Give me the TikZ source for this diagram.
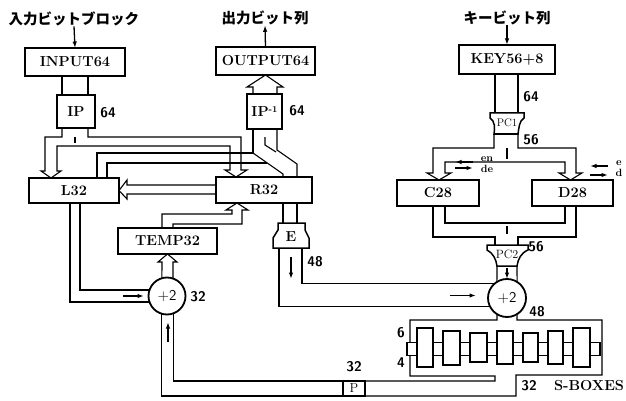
\documentclass[tikz,border=0pt]{standalone}
\usepackage{fontspec}
\newfontfamily\jfont{Noto Sans CJK JP}
\usetikzlibrary{arrows.meta}
\begin{document}
\begin{tikzpicture}[x=1pt,y=-1pt,
  blk/.style={draw, line width=1.8pt, fill=white, inner sep=0pt, outer sep=0pt, font=\fontsize{14.5}{14.5}\selectfont\bfseries},
  txt/.style={inner sep=0pt, font=\fontsize{14.5}{14.5}\selectfont\bfseries},
  bus/.style={line width=1.1pt},
  num/.style={inner sep=0pt, font=\fontsize{14}{14}\selectfont\sffamily\bfseries},
  sarr/.style={line width=1.3pt, -{Latex[length=6.5pt,width=4.5pt]}},
  xorn/.style={circle, draw, line width=1.8pt, fill=white, inner sep=0pt, outer sep=0pt, minimum size=37pt, font=\fontsize{15}{15}\selectfont\sffamily},
  jp/.style={inner sep=0pt, font=\jfont\bfseries\fontsize{14.5}{14.5}\selectfont},
  sbx/.style={draw, line width=1.2pt, fill=white, minimum width=10pt, minimum height=13pt, inner sep=0pt, outer sep=0pt},
  shp/.style={draw, line width=1.5pt, fill=white},
  pcf/.style={inner sep=0pt, font=\fontsize{11}{11}\selectfont},
  small/.style={inner sep=0pt, font=\fontsize{10.5}{10.5}\selectfont\bfseries}
]
\useasboundingbox (0,0) rectangle (626,401);

% titles
\node[jp] (jin) at (74,19) {入力ビットブロック};
\node[jp] (jout) at (265,18) {出力ビット列};
\node[jp] (jkey) at (507,18) {キービット列};

% boxes
\node[blk, minimum width=100pt, minimum height=28pt] (in) at (75,62) {INPUT64};
\node[blk, minimum width=99pt, minimum height=28pt] (out) at (265.5,61) {OUTPUT64};
\node[blk, minimum width=96pt, minimum height=29pt] (key) at (507,59.5) {KEY56+8};
\node[blk, minimum width=38pt, minimum height=33pt] (ip) at (76,111.5) {IP};
\node[blk, minimum width=35pt, minimum height=35pt] (ipi) at (264.5,111.5) {IP\raisebox{4pt}{\fontsize{9}{9}\selectfont -1}};
\node[blk, minimum width=90pt, minimum height=25pt] (L) at (74,190.5) {L32};
\node[blk, minimum width=96pt, minimum height=26pt] (R) at (264,190) {R32};
\node[blk, minimum width=99pt, minimum height=26pt] (T) at (167.5,241) {TEMP32};
\node[blk, minimum width=82pt, minimum height=26pt] (C) at (438,193) {C28};
\node[blk, minimum width=81pt, minimum height=26pt] (D) at (572.5,193) {D28};
\node[blk, line width=1.4pt, minimum width=22pt, minimum height=15pt, font=\fontsize{13}{13}\selectfont] (P) at (354,388.5) {P};
\node[xorn] (lx) at (167,296) {+2};
\node[xorn, minimum size=38pt] (rx) at (507,298) {+2};

% special shapes
\draw[shp] (490,113) -- (524,113) -- (524,118) .. controls (519,121) and (519,128) .. (518,134) -- (494,134) .. controls (495,128) and (495,121) .. (490,118) -- cycle;
\node[pcf] (pc1) at (507,122.5) {PC1};
\draw[shp] (487,245) -- (528,245) -- (528,250) .. controls (521,253) and (518,259) .. (517,266) -- (497,266) .. controls (496,259) and (493,253) .. (487,250) -- cycle;
\node[pcf, font=\fontsize{12}{12}\selectfont] (pc2) at (507,254.5) {PC2};
\draw[shp] (278,223) -- (305,223) -- (305,230) -- (309,238) -- (309,248) -- (273,248) -- (273,238) -- (278,230) -- cycle;
\node[txt] (E) at (291,237) {E};

% title arrows
\draw[sarr] (jin.south) -- (in.north);
\draw[sarr] (out.north) -- (jout.south);
\draw[sarr] (jkey.south) -- (key.north);

% INPUT -> IP, KEY -> PC1
\draw[bus] (62,0 |- in.south) -- (62,0 |- ip.north);
\draw[bus] (88,0 |- in.south) -- (88,0 |- ip.north);
\draw[bus] (495,0 |- key.south) -- (495,113);
\draw[bus] (518,0 |- key.south) -- (518,113);

% IP split to L and R
\draw[bus] (62,0 |- ip.south) -- (62,137) -- (45,137) -- (45,171) -- (41,171) -- (51,0 |- L.north) -- (61,171) -- (57,171) -- (57,146) -- (230,146) -- (230,170) -- (225,170) -- (236,0 |- R.north) -- (247,170) -- (241,170) -- (241,137) -- (88,137) -- (88,0 |- ip.south);
\draw[bus] (75,137) -- (75,143);

% L, R -> IP^-1
\draw[bus] (97,0 |- L.north) -- (97,153) -- (253,153) -- (253,0 |- ipi.south);
\draw[bus] (253,153) -- (283,174) -- (283,0 |- R.north);
\draw[bus] (107,0 |- L.north) -- (107,163) -- (267,163);
\draw[bus] (265,137) -- (265,145) -- (276,152);
\draw[bus] (277,0 |- ipi.south) -- (277,150) -- (297,164) -- (297,0 |- R.north);

% IP^-1 -> OUTPUT
\draw[bus] (253,0 |- ipi.north) -- (253,87) -- (247,87) -- (out.south) -- (283,87) -- (277,87) -- (277,0 |- ipi.north);

% R -> L
\draw[bus] (R.west |- 0,185) -- (127,185) -- (127,180) -- (L.east) -- (127,199) -- (127,194) -- (R.west |- 0,194);

% TEMP -> R
\draw[bus] (162,0 |- T.north) -- (162,214) -- (232,214) -- (232,210) -- (226,210) -- (237,0 |- R.south) -- (248,210) -- (242,210) -- (242,224) -- (173,224) -- (173,0 |- T.north);

% XOR -> TEMP
\draw[bus] (lx.106) -- (162,262) -- (158,262) -- (T.south) -- (177,262) -- (173,262) -- (lx.71);

% L -> XOR
\draw[bus] (80,0 |- L.south) |- (lx.161);
\draw[bus] (70,0 |- L.south) |- (lx.199);

% P -> XOR
\draw[bus] (P.north west) -| (lx.292);
\draw[bus] (P.south west) -| (lx.254);

% R -> E -> XOR
\draw[bus] (283,0 |- R.south) -- (283,223);
\draw[bus] (297,0 |- R.south) -- (297,223);
\draw[bus] (302,248) |- (rx.132);
\draw[bus] (279,248) |- (rx.208);

% PC1 split to C and D
\draw[bus] (494,134) -- (494,148) -- (433,148) -- (433,173) -- (427,173) -- (439,0 |- C.north) -- (451,173) -- (445,173) -- (445,162) -- (565,162) -- (565,173) -- (559,173) -- (570.5,0 |- D.north) -- (582,173) -- (576,173) -- (576,148) -- (518,148) -- (518,134);
\draw[bus] (507,148) -- (507,159);

% C, D -> PC2
\draw[bus] (445,0 |- C.south) -- (445,223) -- (565,223) -- (565,0 |- D.south);
\draw[bus] (433,0 |- C.south) -- (433,237) -- (495,237) -- (495,245);
\draw[bus] (576,0 |- D.south) -- (576,237) -- (518,237) -- (518,245);
\draw[bus] (507,226) -- (507,234);

% PC2 -> XOR
\draw[bus] (497,266) -- (rx.122);
\draw[bus] (517,266) -- (rx.58);

% XOR -> S-box enclosure -> P
\draw[bus] (rx.238) -- (497,320) -- (410,320) -- (410,376) -- (495,376) -- (495,381) -- (P.north east);
\draw[bus] (rx.302) -- (517,320) -- (602,320) -- (602,375) -- (516,375) -- (516,396) -- (P.south east);

% S-box serpentine
\draw[bus] (417,328) rectangle (433,367);
\draw[bus] (443,331) rectangle (460,365);
\draw[bus] (470,333) rectangle (487,362);
\draw[bus] (497,331) rectangle (513,364);
\draw[bus] (523,333) rectangle (538,362);
\draw[bus] (548,331) rectangle (563,364);
\draw[bus] (573,328) rectangle (590,367);
\foreach \x [count=\i] in {412,438,465,492,518,543,568,595}
  \node[sbx] (s\i) at (\x,349) {};

% labels
\node[num] (n1) at (108,113) {64};
\node[num] (n2) at (297,111) {64};
\node[num] (n3) at (531,97) {64};
\node[num] (n4) at (531,140) {56};
\node[num] (n5) at (536,247) {56};
\node[num] (n6) at (315,262) {48};
\node[num] (n7) at (537,312) {48};
\node[num] (n8) at (198,297) {32};
\node[num] (n9) at (401,333) {6};
\node[num] (n10) at (401,363) {4};
\node[num] (n11) at (354,367) {32};
\node[num] (n12) at (529,386) {32};
\node[txt] (sb) at (589,386) {S-BOXES};

% direction arrows
\draw[sarr] (123,296) -- (144,296);
\draw[sarr] (168,342) -- (168,322);
\draw[sarr] (291,257) -- (291,279);
\draw[sarr] (450,295.5) -- (476,295.5);
\draw[sarr] (507,268) -- (507,279);

% en / de
\draw[sarr] (473,162) -- (455,162);
\node[small] (en1) at (487,159) {en};
\draw[sarr] (455,168) -- (473,168);
\node[small] (de1) at (487,169) {de};
\draw[sarr] (608,166) -- (590,166);
\node[small] (en2) at (619,163) {e};
\draw[sarr] (590,175) -- (608,175);
\node[small] (de2) at (619,173) {d};
\end{tikzpicture}
\end{document}
